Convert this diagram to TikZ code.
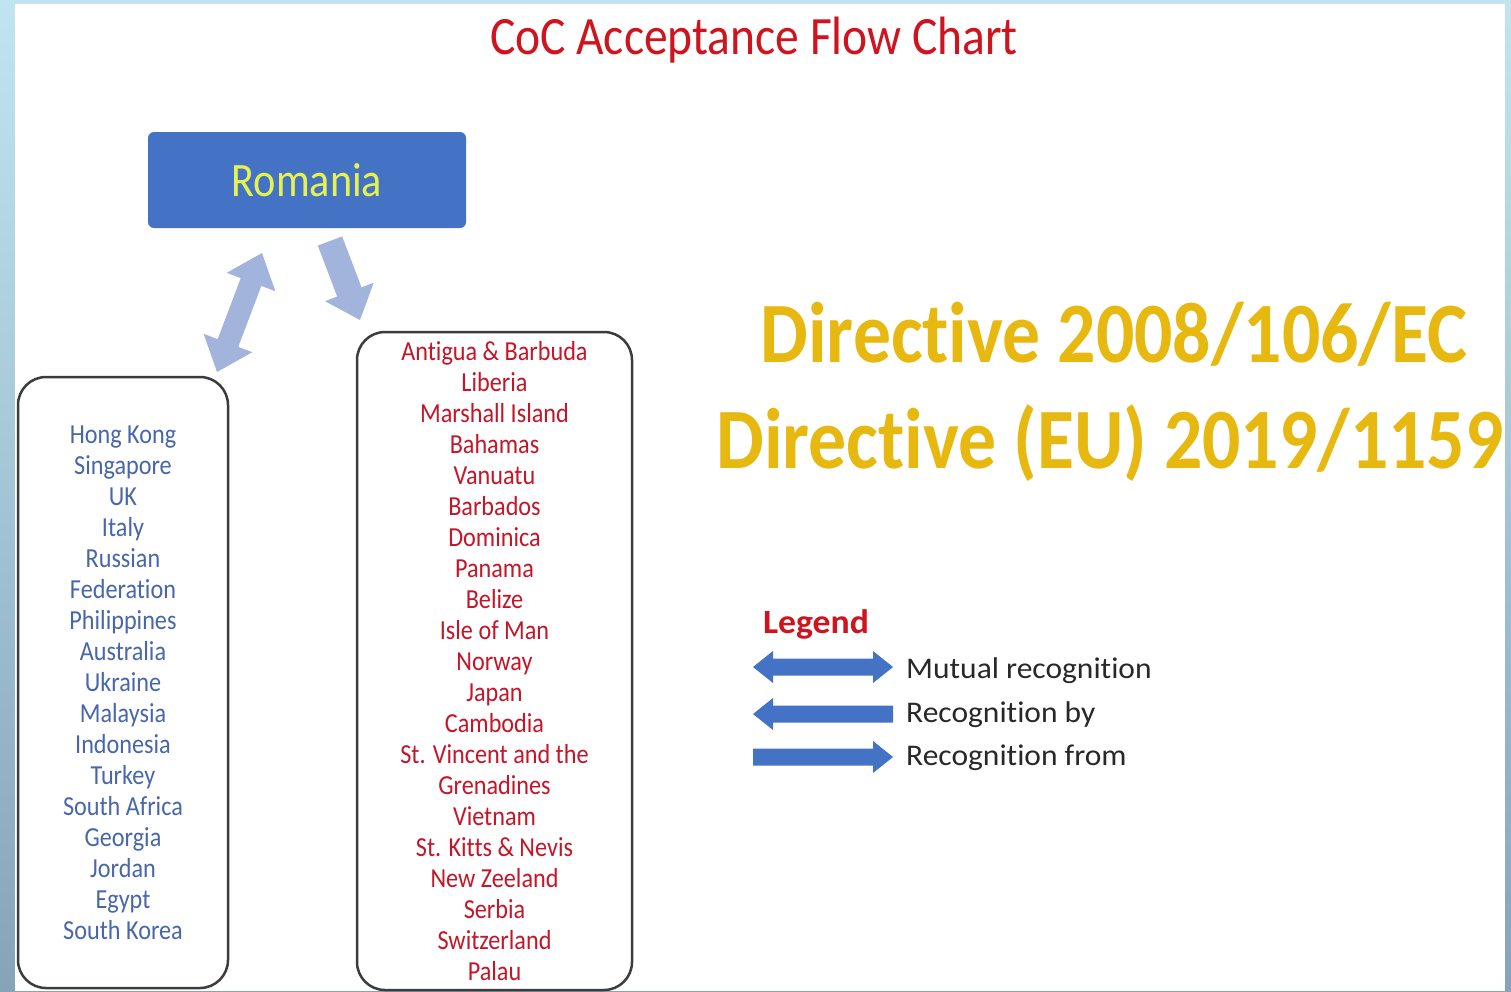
\documentclass[tikz,border=0pt]{standalone}
\usepackage{fontspec}
\setmainfont{Carlito}[FakeStretch=0.88,Ligatures=NoCommon]
\newfontfamily\legendfont{Carlito}[FakeStretch=1.05,Ligatures=NoCommon]
\usetikzlibrary{calc}
\definecolor{bgtop}{RGB}{192,229,241}
\definecolor{bgbot}{RGB}{134,164,184}
\definecolor{titlered}{RGB}{206,20,30}
\definecolor{romblue}{RGB}{68,114,196}
\definecolor{romyellow}{RGB}{230,242,80}
\definecolor{listblue}{RGB}{72,102,170}
\definecolor{listred}{RGB}{196,22,40}
\definecolor{gold}{RGB}{230,184,16}
\definecolor{lightarrow}{RGB}{162,180,220}
\definecolor{boxline}{RGB}{60,60,60}
\definecolor{legtext}{RGB}{40,40,40}
\newcommand\singleblock[6]{%
  \coordinate (#2-h) at ($(#3)!#6!(#2)$);
  \fill[#1] ($(#2)!#4!90:(#3)$) -- ($(#2-h)!#4!90:(#3)$) -- ($(#2-h)!#5!90:(#3)$) -- (#3)
    -- ($(#2-h)!#5!-90:(#3)$) -- ($(#2-h)!#4!-90:(#3)$) -- ($(#2)!#4!-90:(#3)$) -- cycle;}
\newcommand\doubleblock[6]{%
  \coordinate (#2-h) at ($(#2)!#6!(#3)$);
  \coordinate (#3-h) at ($(#3)!#6!(#2)$);
  \fill[#1] (#2) -- ($(#2-h)!#5!90:(#3)$) -- ($(#2-h)!#4!90:(#3)$) -- ($(#3-h)!#4!90:(#3)$)
    -- ($(#3-h)!#5!90:(#3)$) -- (#3) -- ($(#3-h)!#5!-90:(#3)$) -- ($(#3-h)!#4!-90:(#3)$)
    -- ($(#2-h)!#4!-90:(#3)$) -- ($(#2-h)!#5!-90:(#3)$) -- cycle;}
\begin{document}
\begin{tikzpicture}[x=1pt,y=-1pt,
  titletext/.style={text=titlered,font=\fontsize{54}{60}\selectfont,anchor=base,inner sep=0pt},
  rombox/.style={fill=romblue,rounded corners=6pt,minimum width=318pt,minimum height=96pt,inner sep=0pt,
    text=romyellow,font=\fontsize{48}{52}\selectfont},
  listbox/.style={draw=boxline,line width=2.5pt,rounded corners=28pt,align=center,inner sep=0pt},
  leftlist/.style={listbox,minimum width=210pt,minimum height=611pt,text=listblue,font=\fontsize{27.5}{31}\selectfont},
  rightlist/.style={listbox,minimum width=275pt,minimum height=658pt,text=listred,font=\fontsize{27.5}{31}\selectfont},
  directive/.style={text=gold,font=\fontsize{86}{96}\selectfont\bfseries,anchor=base,inner sep=0pt},
  legendhead/.style={text=titlered,font=\legendfont\fontsize{34}{40}\selectfont\bfseries,anchor=base,inner sep=0pt},
  legendlabel/.style={text=legtext,font=\legendfont\fontsize{30}{36}\selectfont,anchor=base west,inner sep=0pt},
  diagarrow/.style={fill=lightarrow},
  legarrow/.style={fill=romblue}]
\useasboundingbox (0,0) rectangle (1511,991);
\shade[top color=bgtop,bottom color=bgbot] (0,0) rectangle (1511,991);
\fill[white] (15,4) rectangle (1505,991);

\node[titletext] (title) at (754,54) {CoC Acceptance Flow Chart};

\node[rombox] (romania) at (307,180) {Romania};

\node[leftlist] (leftbox) at (123,682.5) {Hong Kong\\Singapore\\UK\\Italy\\Russian\\Federation\\Philippines\\Australia\\Ukraine\\Malaysia\\Indonesia\\Turkey\\South Africa\\Georgia\\Jordan\\Egypt\\South Korea};

\node[rightlist] (rightbox) at (494.5,661) {Antigua \& Barbuda\\Liberia\\Marshall Island\\Bahamas\\Vanuatu\\Barbados\\Dominica\\Panama\\Belize\\Isle of Man\\Norway\\Japan\\Cambodia\\St. Vincent and the\\Grenadines\\Vietnam\\St. Kitts \& Nevis\\New Zeeland\\Serbia\\Switzerland\\Palau};

\coordinate (mutA) at (217,372);
\coordinate (mutB) at (262,253);
\doubleblock{diagarrow}{mutA}{mutB}{11pt}{26pt}{31pt}
\coordinate (fromA) at (330,241);
\coordinate (fromB) at (360,320);
\singleblock{diagarrow}{fromA}{fromB}{13pt}{26pt}{30pt}

\node[directive] (dir1) at (1114,362) {Directive 2008/106/EC};
\node[directive] (dir2) at (1110,468) {Directive (EU) 2019/1159};

\node[legendhead] (legend) at (816,633) {Legend};
\coordinate (l1a) at (753,667);
\coordinate (l1b) at (893,667);
\doubleblock{legarrow}{l1a}{l1b}{8.5pt}{16pt}{20pt}
\coordinate (l2a) at (893,714);
\coordinate (l2b) at (753,714);
\singleblock{legarrow}{l2a}{l2b}{8.5pt}{16pt}{20pt}
\coordinate (l3a) at (753,757);
\coordinate (l3b) at (893,757);
\singleblock{legarrow}{l3a}{l3b}{8.5pt}{16pt}{20pt}
\node[legendlabel] (lab1) at (906,678) {Mutual recognition};
\node[legendlabel] (lab2) at (906,722) {Recognition by};
\node[legendlabel] (lab3) at (906,765) {Recognition from};
\end{tikzpicture}
\end{document}
